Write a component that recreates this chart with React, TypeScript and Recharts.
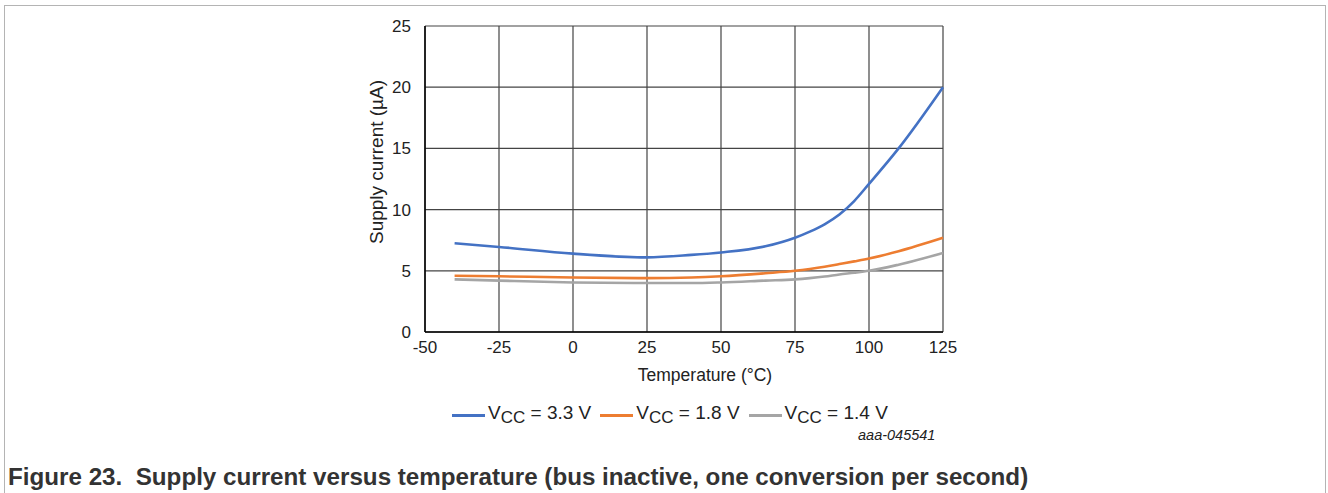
import React from 'react';
import { LineChart, Line, XAxis, YAxis, CartesianGrid } from 'recharts';

const temps = [-40, -25, 0, 25, 40, 50, 65, 75, 80, 85, 90, 95, 100, 110, 125];
const vcc33 = [7.25, 6.95, 6.4, 6.1, 6.3, 6.5, 7.0, 7.7, 8.2, 8.8, 9.6, 10.7, 12.1, 15.0, 20.0];
const vcc18 = [4.6, 4.55, 4.45, 4.4, 4.45, 4.55, 4.8, 5.0, 5.15, 5.33, 5.55, 5.77, 6.0, 6.6, 7.7];
const vcc14 = [4.3, 4.2, 4.05, 4.0, 4.0, 4.05, 4.2, 4.3, 4.4, 4.53, 4.7, 4.84, 5.0, 5.5, 6.45];

const xTicks = [-50, -25, 0, 25, 50, 75, 100, 125];
const yTicks = [0, 5, 10, 15, 20, 25];

const seriesKeys = ['v33', 'v18', 'v14'];
const seriesNames = ['3.3 V', '1.8 V', '1.4 V'];
const seriesColors = ['#4472C4', '#ED7D31', '#A5A5A5'];

const data = temps.map((t, i) => ({ t, v33: vcc33[i], v18: vcc18[i], v14: vcc14[i] }));

const font = '"Liberation Sans", Arial, sans-serif';

export default function App() {
  return (
    <div style={{ position: 'absolute', left: 0, top: 0, width: 1328, height: 493, background: '#fff', overflow: 'hidden' }}>
      {/* figure frame */}
      <div style={{ position: 'absolute', left: 4, top: 5, width: 1320, height: 520, border: '1.5px solid #b4b4b4' }} />

      <div style={{ position: 'absolute', left: 0, top: 0 }}>
        <LineChart width={1328} height={400} data={data} margin={{ top: 26, right: 385, left: 365, bottom: 38 }}>
          <CartesianGrid stroke="#444" strokeWidth={1.2} />
          <XAxis
            dataKey="t"
            type="number"
            domain={[-50, 125]}
            ticks={xTicks}
            tickLine={false}
            tickSize={0}
            tickMargin={9}
            height={30}
            stroke="#000"
            strokeWidth={1.5}
            tick={{ fill: '#222', fontSize: 17, fontFamily: font }}
          />
          <YAxis
            type="number"
            domain={[0, 25]}
            ticks={yTicks}
            tickLine={false}
            tickSize={0}
            tickMargin={14}
            width={60}
            stroke="#000"
            strokeWidth={1.5}
            tick={{ fill: '#222', fontSize: 17, fontFamily: font }}
          />
          {seriesKeys.map((k, i) => (
            <Line
              key={k}
              type="monotone"
              dataKey={k}
              stroke={seriesColors[i]}
              strokeWidth={2.6}
              dot={false}
              isAnimationActive={false}
            />
          ))}
        </LineChart>
      </div>

      {/* legend */}
      <div style={{ position: 'absolute', left: 452, top: 402, display: 'flex', fontFamily: font, fontSize: 19, color: '#222' }}>
        {seriesKeys.map((k, i) => (
          <div key={k} style={{ display: 'flex', alignItems: 'center', marginRight: 9 }}>
            <div style={{ width: 33, height: 3, background: seriesColors[i], marginRight: 3 }} />
            <span>
              V<sub style={{ fontSize: 17, verticalAlign: -4 }}>CC</sub> = {seriesNames[i]}
            </span>
          </div>
        ))}
      </div>

      <div
        style={{
          position: 'absolute', left: 377, top: 162, transform: 'translate(-50%, -50%) rotate(-90deg)',
          fontFamily: font, fontSize: 19, color: '#222', whiteSpace: 'nowrap',
        }}
      >
        Supply current (µA)
      </div>
      <div
        style={{
          position: 'absolute', left: 705, top: 375, transform: 'translate(-50%, -50%)',
          fontFamily: font, fontSize: 17.5, color: '#222', whiteSpace: 'nowrap',
        }}
      >
        Temperature (°C)
      </div>
      <div
        style={{
          position: 'absolute', left: 858, top: 427, fontFamily: font, fontSize: 14.5,
          fontStyle: 'italic', color: '#222', whiteSpace: 'nowrap',
        }}
      >
        aaa-045541
      </div>
      <div
        style={{
          position: 'absolute', left: 8, top: 463, fontFamily: font, fontSize: 24.2,
          fontWeight: 'bold', color: '#333', whiteSpace: 'pre',
        }}
      >
        {'Figure 23.  Supply current versus temperature (bus inactive, one conversion per second)'}
      </div>
    </div>
  );
}
